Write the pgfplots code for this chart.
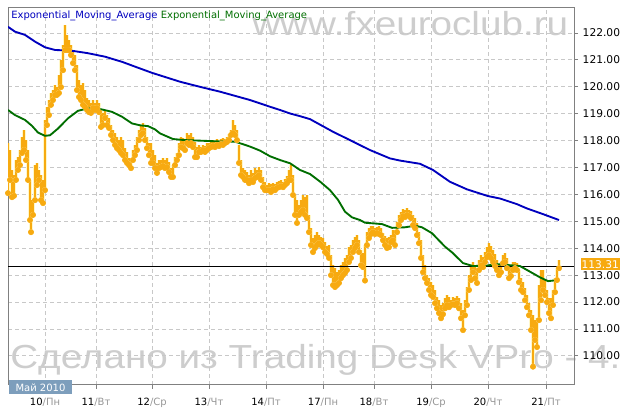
\documentclass[border=0pt]{standalone}
\usepackage{fontspec}
\setmainfont{DejaVu Sans}
\newfontfamily\wmfont{Liberation Sans}
\usepackage{pgfplots}
\usepackage{pgfplotstable}
\pgfplotsset{compat=1.18}
\definecolor{barorange}{RGB}{247,170,16}
\definecolor{glow}{RGB}{255,247,200}
\definecolor{emablue}{RGB}{0,0,190}
\definecolor{emagreen}{RGB}{0,110,0}
\definecolor{gridgray}{RGB}{200,200,200}
\definecolor{axisgray}{RGB}{128,128,128}
\definecolor{wmgray}{RGB}{205,205,205}
\definecolor{maybox}{RGB}{125,158,188}
\definecolor{labelgray}{RGB}{150,150,150}

% price bars: x (chart px), low, high
\pgfplotstableread{
x lo hi
8 116.05 117.91
10 116.54 117.65
12 115.90 116.91
14 115.95 116.72
16 116.54 117.28
18 116.91 117.39
20 117.09 117.65
22 117.54 118.13
24 117.65 118.39
26 117.28 118.02
28 116.54 117.65
30 115.05 116.54
31 114.60 115.79
33 115.24 115.79
35 115.79 117.09
37 116.35 117.17
39 116.54 116.91
41 115.79 116.72
43 115.68 116.54
45 116.16 118.77
47 118.58 119.25
49 118.95 119.51
51 119.33 119.77
53 119.51 119.88
55 119.70 120.07
57 119.70 119.99
59 119.77 120.44
61 119.99 121.00
63 120.62 121.55
65 121.37 122.30
67 121.37 121.93
69 121.37 121.74
71 121.18 121.55
73 120.88 121.37
75 120.62 121.18
77 119.88 120.81
79 119.62 120.25
81 119.51 120.07
83 119.33 120.14
85 119.25 119.88
87 119.14 119.58
89 119.06 119.51
91 119.03 119.40
93 119.21 119.51
95 119.14 119.40
97 119.21 119.51
99 119.06 119.40
101 118.51 119.14
103 118.58 119.03
105 118.84 119.14
107 118.58 118.95
109 118.47 118.84
111 118.21 118.58
113 118.02 118.39
115 117.84 118.28
117 117.72 118.13
119 117.65 118.02
121 117.54 118.13
123 117.46 118.02
125 117.28 117.72
127 117.17 117.58
129 117.09 117.35
131 116.98 117.35
133 117.28 117.65
135 117.46 117.84
137 117.65 118.13
139 118.02 118.39
141 118.21 118.58
143 118.28 118.65
145 118.02 118.47
147 117.72 118.13
149 117.46 117.91
151 117.17 117.91
153 117.17 117.65
155 116.98 117.46
157 116.80 117.17
159 116.98 117.28
161 117.02 117.28
163 117.06 117.35
165 116.98 117.28
167 117.02 117.35
169 116.83 117.20
171 116.65 116.98
173 116.65 117.09
175 117.09 117.39
177 117.28 117.54
179 117.46 117.91
181 117.76 118.13
183 117.72 118.10
185 117.65 118.02
187 117.91 118.28
189 117.84 118.21
191 117.91 118.28
193 117.76 118.13
195 117.39 117.95
197 117.39 117.76
199 117.58 117.84
201 117.58 117.76
203 117.65 117.84
205 117.58 117.80
207 117.65 117.91
209 117.72 117.91
211 117.76 117.95
213 117.80 118.02
215 117.76 117.95
217 117.84 118.06
219 117.80 117.99
221 117.87 118.06
223 117.84 118.10
225 117.91 118.06
227 117.95 118.13
229 118.02 118.25
231 118.21 118.39
233 118.28 118.77
235 118.21 118.58
237 118.02 118.39
239 117.17 117.84
241 116.72 117.28
243 116.65 116.98
245 116.54 116.91
247 116.54 116.83
249 116.42 116.72
251 116.54 116.91
253 116.46 116.80
255 116.61 116.98
257 116.65 116.91
259 116.72 117.02
261 116.54 116.91
263 116.27 116.65
265 116.16 116.46
267 116.16 116.35
269 116.16 116.42
271 116.09 116.39
273 116.20 116.42
275 116.16 116.39
277 116.24 116.46
279 116.27 116.50
281 116.31 116.54
283 116.27 116.46
285 116.35 116.57
287 116.42 116.69
289 116.54 116.91
291 116.54 117.09
293 115.98 116.72
295 115.24 115.98
297 114.94 115.79
299 115.24 115.61
301 115.35 115.79
303 115.42 115.98
305 115.24 115.90
307 115.12 115.98
309 114.60 115.24
311 114.12 114.75
313 113.86 114.38
315 114.01 114.49
317 114.12 114.60
319 114.19 114.49
321 114.12 114.42
323 114.04 114.38
325 113.86 114.23
327 113.79 114.08
329 113.64 114.12
331 113.00 113.75
333 112.63 113.37
335 112.56 113.26
337 112.63 113.11
339 112.71 113.19
341 112.89 113.37
343 113.00 113.49
345 113.08 113.64
347 113.19 113.75
349 113.49 114.04
351 113.64 114.12
353 113.86 114.30
355 114.01 114.42
357 114.12 114.49
359 113.86 114.30
361 113.37 113.93
363 113.30 113.82
365 112.80 114.12
367 114.12 114.60
369 114.38 114.75
371 114.53 114.83
373 114.60 114.83
375 114.53 114.75
377 114.57 114.79
379 114.53 114.83
381 114.49 114.75
383 114.30 114.57
385 114.12 114.46
387 114.01 114.38
389 114.04 114.42
391 114.23 114.49
393 114.30 114.68
395 114.12 114.68
397 114.60 114.98
399 114.86 115.24
401 115.05 115.35
403 115.20 115.46
405 115.16 115.42
407 115.24 115.50
409 115.20 115.42
411 115.12 115.39
413 114.86 115.24
415 114.75 115.12
417 114.49 114.94
419 114.19 114.60
421 113.64 114.30
423 113.11 113.75
425 112.89 113.37
427 112.71 113.00
429 112.45 112.89
431 112.26 112.74
433 112.19 112.63
435 111.96 112.45
437 111.77 112.19
439 111.59 112.07
441 111.40 111.89
443 111.55 111.96
445 111.77 112.15
447 111.89 112.26
449 111.81 112.19
451 111.89 112.07
453 111.92 112.19
455 111.89 112.15
457 111.96 112.22
459 111.77 112.15
461 111.40 111.96
463 110.96 111.70
465 111.51 112.07
467 111.89 112.56
469 112.45 113.00
471 112.82 113.37
473 113.11 113.49
475 112.89 113.37
477 112.71 113.26
479 113.19 113.56
481 113.37 113.75
483 113.30 113.67
485 113.49 113.86
487 113.67 114.04
489 113.75 114.19
491 113.64 114.08
493 113.49 113.93
495 113.34 113.79
497 113.19 113.56
499 113.00 113.37
501 113.11 113.49
503 113.45 113.75
505 113.49 113.82
507 113.26 113.64
509 112.89 113.37
511 112.97 113.34
513 113.19 113.49
515 113.26 113.49
517 113.19 113.45
519 112.74 113.19
521 112.45 112.89
523 112.37 112.74
525 112.07 112.52
527 111.81 112.26
529 111.51 111.96
531 110.96 111.70
533 109.60 111.51
535 110.59 111.33
537 110.33 111.40
539 111.33 112.63
541 112.07 113.19
543 112.45 113.19
545 112.26 112.82
547 112.00 112.45
549 111.59 112.15
551 111.40 112.15
553 111.89 112.45
555 112.37 112.89
557 112.82 113.26
559 113.26 113.56
}\pricedata

\begin{document}
\begin{tikzpicture}
\path[use as bounding box] (0,0) rectangle (470.25pt,312pt);

% watermarks (behind the chart)
\begin{scope}[x=0.75pt,y=-0.75pt,yshift=312pt]
\node[anchor=base west, inner sep=0pt, text=wmgray, xscale=1.16, font=\wmfont\fontsize{25}{25}\selectfont] at (252,36) {www.fxeuroclub.ru};
\node[anchor=base west, inner sep=0pt, text=wmgray, xscale=1.16, font=\wmfont\fontsize{25}{25}\selectfont] at (10,369) {Сделано из Trading Desk VPro - 4.};
\end{scope}

\begin{axis}[
    at={(6pt,23.25pt)}, anchor=south west,
    scale only axis,
    width=424.5pt, height=282.75pt,
    xmin=8, xmax=574,
    ymin=108.92, ymax=122.93,
    axis line style={draw=axisgray, line width=0.75pt},
    xtick={45,96,152,209,266,323,374,431,488,546},
    xticklabels={
      {10\textcolor{labelgray}{/Пн}},
      {11\textcolor{labelgray}{/Вт}},
      {12\textcolor{labelgray}{/Ср}},
      {13\textcolor{labelgray}{/Чт}},
      {14\textcolor{labelgray}{/Пт}},
      {17\textcolor{labelgray}{/Пн}},
      {18\textcolor{labelgray}{/Вт}},
      {19\textcolor{labelgray}{/Ср}},
      {20\textcolor{labelgray}{/Чт}},
      {21\textcolor{labelgray}{/Пт}}},
    ytick={110,111,...,122},
    xtick pos=bottom, ytick pos=right,
    yticklabel pos=right,
    tick align=outside,
    major tick length=3pt,
    tick style={draw=axisgray, line width=0.75pt},
    xticklabel style={font=\fontsize{7.5}{9}\selectfont, yshift=-3.5pt},
    yticklabel style={font=\fontsize{8}{9}\selectfont,
      /pgf/number format/.cd, fixed, fixed zerofill, precision=2, assume math mode=true},
    grid=major,
    major grid style={draw=gridgray, dash pattern=on 3pt off 2.25pt, line width=0.75pt},
]
% glow under the bars
\addplot[glow, only marks, mark=none,
    error bars/.cd, y dir=plus, y explicit, error mark=none,
    error bar style={draw=glow, line width=2.4pt, line cap=butt}]
    table[x=x, y=lo, y error expr=\thisrow{hi}-\thisrow{lo}] {\pricedata};
% price bars
\addplot[barorange, only marks, mark=none,
    error bars/.cd, y dir=plus, y explicit, error mark=none,
    error bar style={draw=barorange, line width=1pt, line cap=butt}]
    table[x=x, y=lo, y error expr=\thisrow{hi}-\thisrow{lo}] {\pricedata};

% last price line
\addplot[black, line width=0.75pt] coordinates {(8,113.31) (574,113.31)};

% slow EMA
\addplot[emablue, line width=1.4pt] coordinates {
(8,122.23) (15,122.05) (25,121.93) (35,121.68) (45,121.47) (55,121.37)
(72,121.34) (88,121.25) (105,121.12) (122,120.93) (138,120.71) (152,120.52)
(180,120.19) (200,120.00) (220,119.82) (250,119.51) (270,119.26) (280,119.14)
(290,119.01) (300,118.91) (310,118.80) (333,118.33) (350,118.02) (370,117.65)
(390,117.34) (400,117.26) (420,117.14) (433,116.91) (450,116.47) (467,116.19)
(488,115.94) (500,115.85) (517,115.64) (527,115.48) (543,115.27) (559,115.05)
};

% fast EMA
\addplot[emagreen, line width=1.4pt] coordinates {
(8,119.14) (15,118.95) (25,118.77) (32,118.55) (38,118.30) (45,118.18)
(50,118.20) (58,118.45) (68,118.83) (78,119.11) (88,119.20) (102,119.16)
(112,119.07) (122,118.89) (132,118.64) (140,118.57) (148,118.54) (155,118.42)
(160,118.27) (173,118.06) (185,118.02) (200,118.00) (220,117.97) (235,117.96)
(242,117.88) (250,117.78) (260,117.63) (270,117.42) (280,117.28) (290,117.16)
(300,116.91) (310,116.76) (320,116.48) (330,116.16) (338,115.80) (345,115.36)
(352,115.15) (360,115.05) (365,114.95) (382,114.90) (392,114.76) (405,114.78)
(415,114.84) (422,114.78) (432,114.56) (445,114.06) (452,113.85) (463,113.45)
(473,113.34) (487,113.36) (497,113.41) (510,113.37) (520,113.34) (530,113.13)
(540,112.92) (548,112.78) (558,112.82)
};
\end{axis}

% overlays in pixel units
\begin{scope}[x=0.75pt,y=-0.75pt,yshift=312pt]
\node[anchor=base west, inner sep=0pt, font=\fontsize{7.5}{9}\selectfont] at (11,19)
  {\textcolor{emablue}{Exponential\_Moving\_Average} \textcolor{emagreen}{Exponential\_Moving\_Average}};
\fill[barorange] (580.5,258.5) rectangle (620,270.5);
\node[text=white, inner sep=0pt, font=\fontsize{8}{9}\selectfont] at (600.25,264.5) {113.31};
\fill[maybox] (9,380) rectangle (72,394.5);
\node[text=white, inner sep=0pt, font=\fontsize{7.5}{9}\selectfont] at (40.5,387.5) {Май 2010};
\end{scope}
\end{tikzpicture}
\end{document}
